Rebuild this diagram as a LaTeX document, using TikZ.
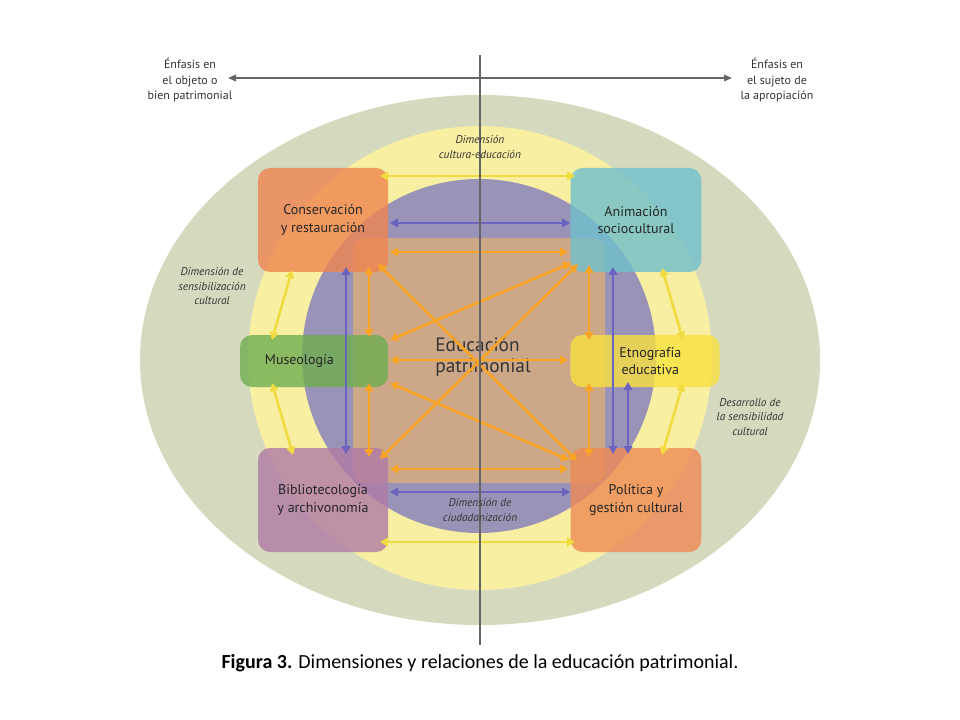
\documentclass[tikz,border=0pt]{standalone}
\usepackage{fontspec}
\setmainfont{PT Sans}
\newfontfamily\capfont{Carlito}
\usetikzlibrary{arrows.meta}

\definecolor{outerc}{HTML}{D5D9BE}
\definecolor{yellowc}{HTML}{F8EFA2}
\definecolor{purplec}{HTML}{9A93B8}
\definecolor{squarec}{HTML}{D9AC7C}
\definecolor{arrowo}{HTML}{F9A425}
\definecolor{arrowb}{HTML}{6A63C0}
\definecolor{arrowy}{HTML}{F0DC40}
\definecolor{consc}{HTML}{EE8550}
\definecolor{animc}{HTML}{6FC0CC}
\definecolor{musec}{HTML}{6FAE50}
\definecolor{etnoc}{HTML}{F8E040}
\definecolor{biblc}{HTML}{B07AA5}
\definecolor{polic}{HTML}{EE8A55}

\begin{document}
\begin{tikzpicture}[
  x=0.75pt, y=-0.75pt,
  field/.style={rectangle, rounded corners=9pt, fill opacity=0.8, text opacity=1,
                font=\fontsize{10.5}{13}\selectfont, align=center, text=black!85},
  note/.style={font=\itshape\fontsize{8.5}{11}\selectfont, align=center, text=black!80},
  orange/.style={{Triangle[length=6pt,width=6.5pt]}-{Triangle[length=6pt,width=6.5pt]}, arrowo, line width=2pt},
  blue/.style={orange, arrowb},
  yell/.style={orange, arrowy}
]
\useasboundingbox (0,0) rectangle (960,720);
\fill[outerc] (480,360) ellipse [x radius=340, y radius=265];
\fill[yellowc] (480,358) circle [radius=232];
\fill[purplec] (479,356) circle [radius=177];
\fill[squarec, fill opacity=0.8, rounded corners=9pt] (353,238) rectangle (605,483);

% areas
\node[field, fill=consc, minimum width=97.5pt, minimum height=78pt] (cons) at (323,220) {Conservación\\y restauración};
\node[field, fill=animc, minimum width=98pt, minimum height=78pt] (anim) at (636,220) {Animación\\sociocultural};
\node[field, fill=musec, minimum width=111pt, minimum height=39pt] (muse) at (314,361) {Museología\hspace*{22pt}};
\node[field, fill=etnoc, minimum width=112pt, minimum height=39pt] (etno) at (645,361) {\hspace*{8pt}Etnografía\\\hspace*{8pt}educativa};
\node[field, fill=biblc, minimum width=97.5pt, minimum height=78pt] (bibl) at (323,500) {Bibliotecología\\y archivonomía};
\node[field, fill=polic, minimum width=98pt, minimum height=78pt] (poli) at (636,500) {Política y\\gestión cultural};
\node[font=\fontsize{14.5}{15.5}\selectfont, align=left, text=black!80] (edu) at (483,357) {Educación\\patrimonial};

% arrow ends
\coordinate (c1) at (378,264); \coordinate (a1) at (578,264);
\coordinate (m1) at (390,340); \coordinate (m2) at (390,383);
\coordinate (b1) at (380,459); \coordinate (p1) at (577,461);

\draw[yell] (380,176) coordinate (ty1) -- (575,176) coordinate (ty2);
\draw[yell] (380,542) coordinate (by1) -- (575,542) coordinate (by2);
\draw[yell] (292,270) coordinate (ly1) -- (272,340) coordinate (ly2);
\draw[yell] (272,383) coordinate (ly3) -- (293,455) coordinate (ly4);
\draw[yell] (662,268) coordinate (ry1) -- (683,340) coordinate (ry2);
\draw[yell] (683,383) coordinate (ry3) -- (662,455) coordinate (ry4);

\draw[blue] (390,223) coordinate (tb1) -- (570,223) coordinate (tb2);
\draw[blue] (390,492) coordinate (bb1) -- (570,492) coordinate (bb2);
\draw[blue] (346,267) coordinate (lb1) -- (346,454) coordinate (lb2);
\draw[blue] (613,267) coordinate (rb1) -- (613,454) coordinate (rb2);
\draw[blue] (628,382) coordinate (rb3) -- (628,454) coordinate (rb4);

\draw[orange] (390,252) coordinate (to1) -- (568,252) coordinate (to2);
\draw[orange] (390,469) coordinate (bo1) -- (568,469) coordinate (bo2);
\draw[orange] (390,360) coordinate (mo1) -- (568,360) coordinate (mo2);
\draw[orange] (369,267) coordinate (lo1) -- (369,337) coordinate (lo2);
\draw[orange] (369,383) coordinate (lo3) -- (369,457) coordinate (lo4);
\draw[orange] (589,265) coordinate (ro1) -- (589,340) coordinate (ro2);
\draw[orange] (589,383) coordinate (ro3) -- (589,457) coordinate (ro4);
\draw[orange] (c1) -- (p1);
\draw[orange] (a1) -- (b1);
\draw[orange] (571,263) -- (m1);
\draw[orange] (m2) -- (569,460);

% axes
\draw[black!60, line width=1.2pt] (480,55) coordinate (vt) -- (480,645) coordinate (vb);
\draw[black!60, line width=1pt, -{Triangle[length=6pt,width=5pt]}] (480,78) coordinate (hm) -- (732,78) coordinate (hr);
\draw[black!60, line width=1pt, -{Triangle[length=6pt,width=5pt]}] (hm) -- (228,78) coordinate (hl);

\node[font=\fontsize{9}{11.5}\selectfont, align=center, text=black!80] (objeto) at (190,80) {Énfasis en\\el objeto o\\bien patrimonial};
\node[font=\fontsize{9}{11.5}\selectfont, align=center, text=black!80] (sujeto) at (777,80) {Énfasis en\\el sujeto de\\la apropiación};
\node[note] (dce) at (480,147) {Dimensión\\cultura-educación};
\node[note] (dsc) at (212,286) {Dimensión de\\sensibilización\\cultural};
\node[note] (dsens) at (750,417) {Desarrollo de\\la sensibilidad\\cultural};
\node[note] (dciu) at (480,510) {Dimensión de\\ciudadanización};
\node[font=\capfont\fontsize{15}{17}\selectfont] (cap) at (480,663) {\textbf{Figura 3.} Dimensiones y relaciones de la educación patrimonial.};
\end{tikzpicture}
\end{document}
